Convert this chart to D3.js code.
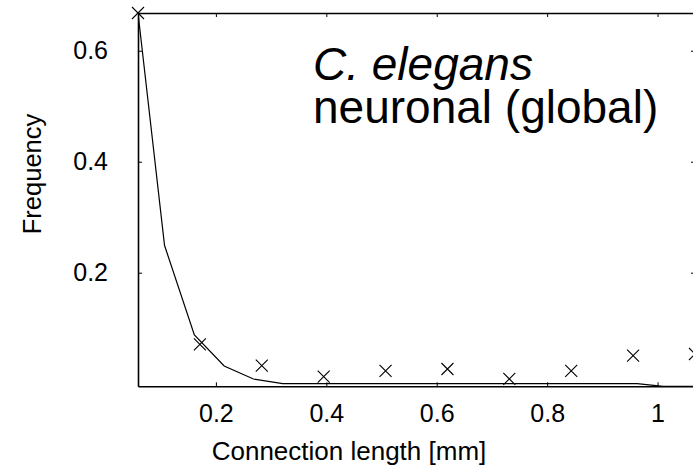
<!DOCTYPE html>
<html>
<head>
<meta charset="utf-8">
<script src="https://cdn.jsdelivr.net/npm/d3@7"></script>
<style>
  html, body { margin: 0; padding: 0; background: #fff; }
  svg { display: block; font-family: "Liberation Sans", Arial, sans-serif; }
</style>
</head>
<body>
<svg id="chart" width="693" height="473"></svg>
<script>
// Observed connection-length histogram (bin centres, mm) and frequencies
const binCenters = [0.0589, 0.1710, 0.2831, 0.3952, 0.5073, 0.6194, 0.7315, 0.8436, 0.9557, 1.0678];
const observedFreq = [0.668, 0.071, 0.0324, 0.0126, 0.0229, 0.0265, 0.0085, 0.0229, 0.0505, 0.0535];

// Model curve sampled at half-bin spacing
const modelX = [0.0589, 0.107, 0.161, 0.215, 0.268, 0.321, 0.375, 0.428, 0.482, 0.535, 0.589, 0.642,
                0.696, 0.749, 0.803, 0.856, 0.910, 0.963, 1.010, 1.0678];
const modelY = [0.668, 0.249, 0.088, 0.032, 0.0085, 0.0, 0.0, 0.0, 0.0, 0.0, 0.0, 0.0,
                0.0, 0.0, 0.0, 0.0, 0.0, 0.0, -0.0047, -0.0047];

const xTicks = [0.2, 0.4, 0.6, 0.8, 1];
const yTicks = [0.2, 0.4, 0.6];
const xTickLabels = ["0.2", "0.4", "0.6", "0.8", "1"];
const yTickLabels = ["0.2", "0.4", "0.6"];

const titleLine1 = "C. elegans";
const titleLine2 = "neuronal (global)";
const xLabel = "Connection length [mm]";
const yLabel = "Frequency";

const svg = d3.select("#chart");
const plot = { left: 138, right: 695, top: 13, bottom: 386.3 };

const x = d3.scaleLinear().domain([binCenters[0], binCenters[binCenters.length - 1]])
  .range([plot.left, plot.right]);
const y = d3.scaleLinear().domain([-0.0047, 0.668]).range([plot.bottom, plot.top]);

svg.append("defs").append("clipPath").attr("id", "plotClip")
  .append("rect")
  .attr("x", plot.left).attr("y", plot.top)
  .attr("width", plot.right - plot.left).attr("height", plot.bottom - plot.top);

// Axes box with inward ticks on all four sides
const tickLen = 4;
const axisColor = "#000";

const bottomAxis = d3.axisBottom(x).tickValues(xTicks).tickFormat((d, i) => xTickLabels[i])
  .tickSizeInner(-tickLen).tickSizeOuter(0).tickPadding(17.5);
const topAxis = d3.axisTop(x).tickValues(xTicks).tickFormat("")
  .tickSizeInner(-tickLen).tickSizeOuter(0);
const leftAxis = d3.axisLeft(y).tickValues(yTicks).tickFormat((d, i) => yTickLabels[i])
  .tickSizeInner(-tickLen).tickSizeOuter(0).tickPadding(30);
const rightAxis = d3.axisRight(y).tickValues(yTicks).tickFormat("")
  .tickSizeInner(-tickLen).tickSizeOuter(0);

function styleAxis(g) {
  g.select(".domain").attr("stroke", axisColor).attr("stroke-width", 1.6);
  g.selectAll(".tick line").attr("stroke", axisColor).attr("stroke-width", 1);
  g.selectAll(".tick text").attr("fill", "#000").style("font-size", "25px")
    .style("font-family", "'Liberation Sans', Arial, sans-serif");
}

svg.append("g").attr("transform", `translate(0,${plot.bottom})`).call(bottomAxis).call(styleAxis)
  .selectAll(".tick text").attr("dy", "0.71em");
svg.append("g").attr("transform", `translate(0,${plot.top})`).call(topAxis).call(styleAxis);
svg.append("g").attr("transform", `translate(${plot.left},0)`).call(leftAxis).call(styleAxis);
svg.append("g").attr("transform", `translate(${plot.right},0)`).call(rightAxis).call(styleAxis);

// Model curve
const modelPts = modelX.map((d, i) => [d, modelY[i]]);
svg.append("path")
  .datum(modelPts)
  .attr("clip-path", "url(#plotClip)")
  .attr("fill", "none")
  .attr("stroke", "#000")
  .attr("stroke-width", 1.2)
  .attr("d", d3.line().x(d => x(d[0])).y(d => y(d[1])));

// Observed frequencies as x markers
const m = 6;
const marks = svg.append("g").selectAll("g.mark")
  .data(binCenters.map((d, i) => [d, observedFreq[i]]))
  .join("g").attr("class", "mark")
  .attr("transform", d => `translate(${x(d[0])},${y(d[1])})`);
marks.append("path")
  .attr("d", `M${-m},${-m}L${m},${m}M${-m},${m}L${m},${-m}`)
  .attr("stroke", "#000").attr("stroke-width", 1.1).attr("fill", "none");

// Title inside the plot, two lines
svg.append("text").attr("x", 313).attr("y", 80).attr("fill", "#000")
  .style("font-size", "46px").style("font-style", "italic").text(titleLine1);
svg.append("text").attr("x", 313).attr("y", 123).attr("fill", "#000")
  .style("font-size", "46px").text(titleLine2);

// Axis labels
svg.append("text").attr("x", 349).attr("y", 460).attr("text-anchor", "middle")
  .attr("fill", "#000").style("font-size", "26px").text(xLabel);
svg.append("text")
  .attr("transform", "translate(41,174) rotate(-90)")
  .attr("text-anchor", "middle").attr("fill", "#000").style("font-size", "25.5px").text(yLabel);
</script>
</body>
</html>
